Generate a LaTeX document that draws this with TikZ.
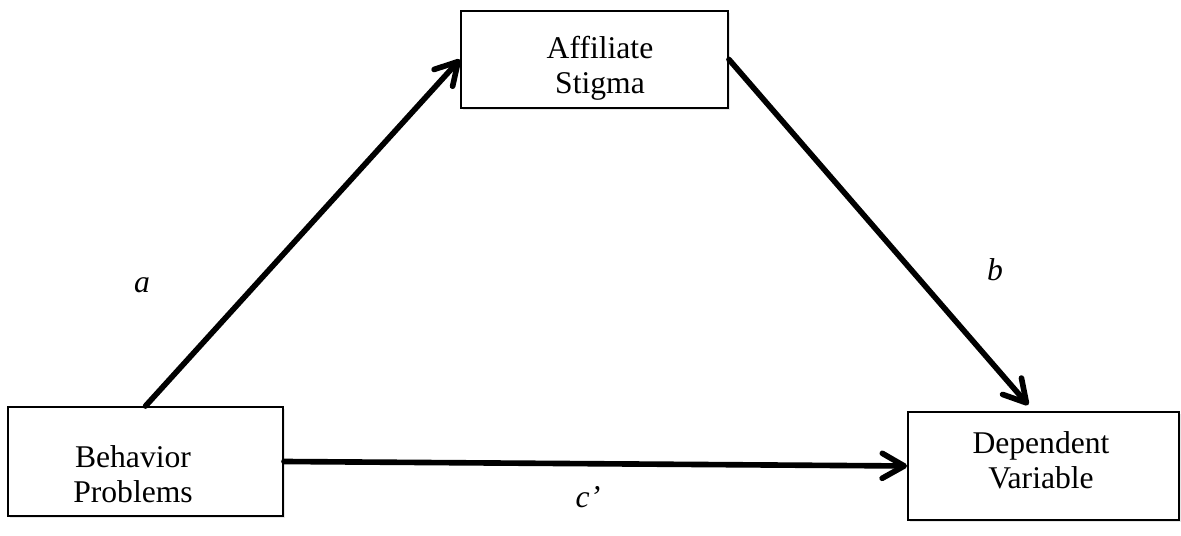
\documentclass[tikz,border=0pt]{standalone}
\usepackage{fontspec}
\setmainfont{Liberation Serif}
\usetikzlibrary{arrows.meta, shadows}

\begin{document}
\begin{tikzpicture}[
    x=0.02cm, y=-0.02cm,
    box/.style={
        draw, rectangle, fill=white,
        line width=1.1pt,
        drop shadow={shadow xshift=1.2pt, shadow yshift=-1.2pt, opacity=0.2}
    },
    lbl/.style={
        align=center, inner sep=0pt,
        font=\fontsize{18}{20}\selectfont
    },
    path/.style={font=\fontsize{18}{20}\selectfont\itshape},
    arrow/.style={
        -{Straight Barb[length=4.4mm, width=5mm, round]},
        line width=3.2pt, line cap=round
    }
]
\useasboundingbox (0,0) rectangle (1181,536);

\node[box, minimum width=267*0.02cm, minimum height=97*0.02cm] (stigma) at (594.5,59.5) {};
\node[lbl] (stigmatxt) at (600,68) {Affiliate\\Stigma};

\node[box, minimum width=275*0.02cm, minimum height=109*0.02cm] (behav) at (145.5,461.5) {};
\node[lbl] (behavtxt) at (133,474) {Behavior\\Problems};

\node[box, minimum width=271*0.02cm, minimum height=108*0.02cm] (dep) at (1043.5,466) {};
\node[lbl] (deptxt) at (1041,460) {Dependent\\Variable};

\draw[arrow] (behav.north) -- (stigma.west);
\draw[arrow, shorten >=0.16cm] (stigma.east) -- ([xshift=-0.2cm]dep.north);
\draw[arrow] (behav.east) -- (dep.west);

\node[path] (pa) at (142,285) {a};
\node[path] (pb) at (995,270) {b};
\node[path] (pc) at (588,497) {c’};

\end{tikzpicture}
\end{document}
